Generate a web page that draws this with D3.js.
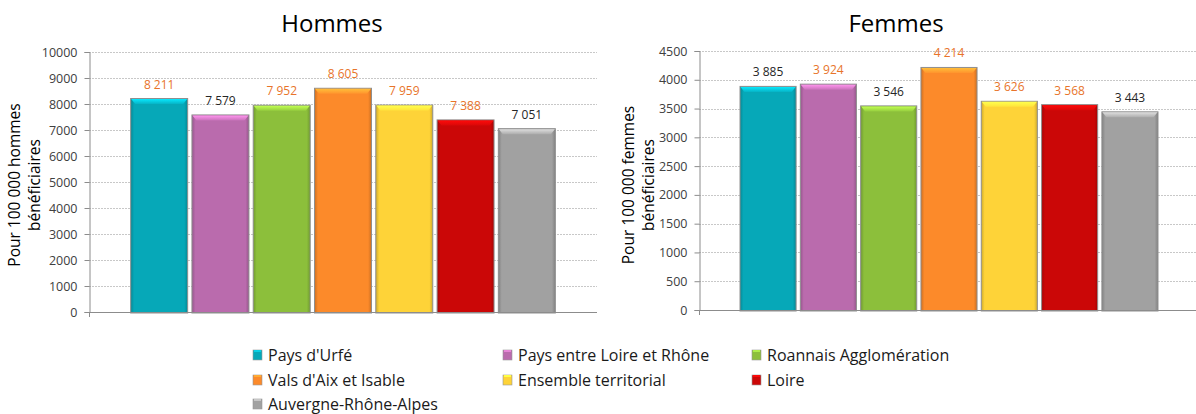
<!DOCTYPE html>
<html><head><meta charset="utf-8">
<script src="https://cdn.jsdelivr.net/npm/d3@7"></script>
<style>body{margin:0;background:#fff;}svg{display:block;font-family:"Open Sans","Noto Sans",sans-serif;}</style>
</head><body>
<svg id="c" width="1196" height="414"></svg>
<script>
const categories = ["Pays d'Urfé","Pays entre Loire et Rhône","Roannais Agglomération","Vals d'Aix et Isable","Ensemble territorial","Loire","Auvergne-Rhône-Alpes"];
const hommesValues = [8211, 7579, 7952, 8605, 7959, 7388, 7051];
const femmesValues = [3885, 3924, 3546, 4214, 3626, 3568, 3443];
const hommesSignificant = [true, false, true, true, true, true, false];
const femmesSignificant = [false, true, false, true, true, true, false];
const hommesTicks = [0,1000,2000,3000,4000,5000,6000,7000,8000,9000,10000];
const femmesTicks = [0,500,1000,1500,2000,2500,3000,3500,4000,4500];
const titles = ["Hommes","Femmes"];
const axisTitles = [["Pour 100 000 hommes","bénéficiaires"],["Pour 100 000 femmes","bénéficiaires"]];

const colors = ["#06A8B8","#BA6BAD","#8CBF3B","#FC8A2A","#FED338","#CB0707","#A1A1A1"];
const color = d3.scaleOrdinal().domain(categories).range(colors);
const svg = d3.select("#c");
const defs = svg.append("defs");
colors.forEach((c,i)=>{
  const g = defs.append("linearGradient").attr("id","g"+i).attr("x1","0").attr("x2","1").attr("y1","0").attr("y2","0");
  const dk = d3.color(c).darker(0.6).formatHex();
  g.append("stop").attr("offset","0%").attr("stop-color",dk);
  g.append("stop").attr("offset","6%").attr("stop-color",c);
  g.append("stop").attr("offset","94%").attr("stop-color",c);
  g.append("stop").attr("offset","100%").attr("stop-color",dk);
  const t = defs.append("linearGradient").attr("id","t"+i).attr("x1","0").attr("x2","0").attr("y1","0").attr("y2","1");
  t.append("stop").attr("offset","0%").attr("stop-color",d3.color(c).brighter(0.9).formatHex());
  t.append("stop").attr("offset","100%").attr("stop-color",d3.color(c).brighter(0.2).formatHex());
});

const panels = [
  {values:hommesValues, sig:hommesSignificant, ticks:hommesTicks, max:10000, left:89, right:597, top:52, bottom:312, titleX:332, atX:[14,34]},
  {values:femmesValues, sig:femmesSignificant, ticks:femmesTicks, max:4500, left:699, right:1199, top:51, bottom:310, titleX:896, atX:[628,648]}
];

panels.forEach((p,pi)=>{
  const g = svg.append("g");
  const y = d3.scaleLinear().domain([0,p.max]).range([p.bottom,p.top]);
  const x = d3.scaleBand().domain(categories).range([p.left,p.right]).paddingInner(0.07).paddingOuter(0.68);
  g.selectAll(".grid").data(p.ticks.filter(t=>t>0)).join("line")
    .attr("x1",p.left).attr("x2",p.right).attr("y1",d=>Math.round(y(d))+0.5).attr("y2",d=>Math.round(y(d))+0.5)
    .attr("stroke","#c8c8c8").attr("stroke-width",1).attr("stroke-dasharray","2,1");
  const ax = g.append("g").attr("transform",`translate(${p.left+0.5},0)`)
    .call(d3.axisLeft(y).tickValues(p.ticks).tickFormat(d3.format("d")).tickSize(5).tickPadding(7));
  ax.select(".domain").attr("stroke","#8c8c8c");
  ax.selectAll(".tick line").attr("stroke","#8c8c8c");
  ax.selectAll(".tick text").attr("fill","#404040").style("font-size","12.5px").style("font-family","'Open Sans','Noto Sans',sans-serif");
  g.append("text").attr("x",p.titleX).attr("y",32).attr("text-anchor","middle")
    .style("font-size","24px").attr("fill","#000").text(titles[pi]);
  const cy = 185;
  axisTitles[pi].forEach((t,k)=>{
    g.append("text").attr("transform",`translate(${p.atX[k]},${cy}) rotate(-90)`)
      .attr("text-anchor","middle").attr("dominant-baseline","central")
      .style("font-size","15.5px").attr("fill","#000").text(t);
  });
  const bars = g.selectAll(".bar").data(categories.map((c,i)=>({c,i,v:p.values[i],s:p.sig[i]}))).join("g");
  bars.append("rect").attr("x",d=>x(d.c)).attr("width",x.bandwidth())
    .attr("y",d=>y(d.v)).attr("height",d=>y(0)-y(d.v)+1)
    .attr("fill",d=>`url(#g${d.i})`).attr("stroke","#8f8f8f").attr("stroke-width",1);
  bars.append("path").attr("d",d=>{
      const x0=x(d.c)+0.5, x1=x0+x.bandwidth()-1, t=y(d.v)+0.5;
      return `M${x0},${t}L${x1},${t}L${x1-4},${t+5}L${x0+4},${t+5}Z`;
    }).attr("fill",d=>`url(#t${d.i})`).attr("stroke","none");
  g.append("line").attr("x1",p.left).attr("x2",p.right).attr("y1",p.bottom+0.5).attr("y2",p.bottom+0.5).attr("stroke","#8c8c8c");
  g.append("line").attr("x1",p.left+0.5).attr("x2",p.left+0.5).attr("y1",p.bottom).attr("y2",p.bottom+5).attr("stroke","#8c8c8c");
  const fmt = v=>d3.format(",")(v).replace(",", " ");
  bars.append("text").attr("x",d=>x(d.c)+x.bandwidth()/2).attr("y",d=>y(d.v)-10)
    .attr("text-anchor","middle").style("font-size","12px")
    .attr("fill",d=>d.s?"#E8742A":"#262626").text(d=>fmt(d.v));
});

const colX = [253,503,752], rowY = [355,380,404];
const lg = svg.append("g");
categories.forEach((c,i)=>{
  const cx = colX[i%3], cyy = rowY[Math.floor(i/3)];
  lg.append("rect").attr("x",cx).attr("y",cyy-5).attr("width",9).attr("height",10)
    .attr("fill",`url(#g${i})`).attr("stroke","#9a9a9a").attr("stroke-width",0.6);
  lg.append("rect").attr("x",cx+1).attr("y",cyy-5).attr("width",7).attr("height",2)
    .attr("fill",d3.color(colors[i]).brighter(0.6).formatHex());
  lg.append("text").attr("x",cx+15).attr("y",cyy).attr("dominant-baseline","central")
    .style("font-size","16px").attr("fill","#1a1a1a").text(c);
});
</script>
</body></html>
